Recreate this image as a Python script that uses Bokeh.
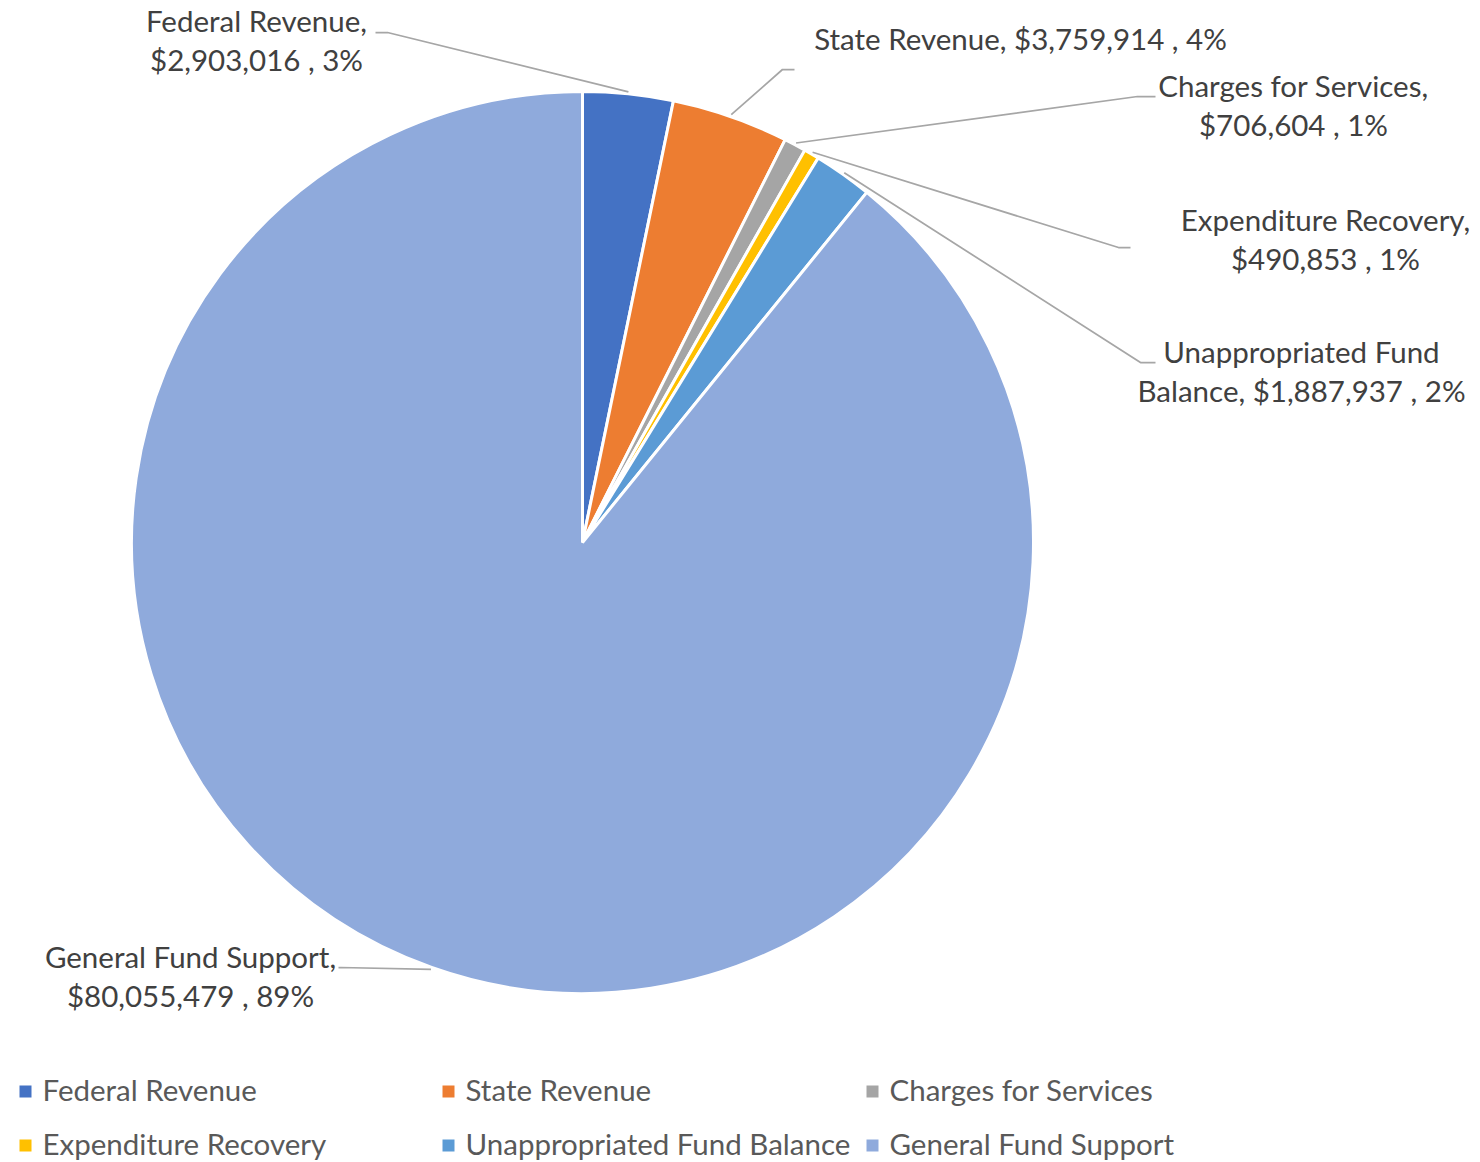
import numpy as np
from bokeh.plotting import figure
from bokeh.models import Range1d, ColumnDataSource
from bokeh.embed import file_html
from bokeh.resources import INLINE
from bokeh.core.properties import value

# ---------------- data ----------------
categories = ["Federal Revenue", "State Revenue", "Charges for Services",
              "Expenditure Recovery", "Unappropriated Fund Balance", "General Fund Support"]
amounts = [2903016, 3759914, 706604, 490853, 1887937, 80055479]
colors = ["#4472C4", "#ED7D31", "#A5A5A5", "#FFC000", "#5B9BD5", "#8FAADC"]

# data label lines (as shown on the chart)
label_lines = [
    ["Federal Revenue,", "$2,903,016 , 3%"],
    ["State Revenue, $3,759,914 , 4%"],
    ["Charges for Services,", "$706,604 , 1%"],
    ["Expenditure Recovery,", "$490,853 , 1%"],
    ["Unappropriated Fund", "Balance, $1,887,937 , 2%"],
    ["General Fund Support,", "$80,055,479 , 89%"],
]

# ---------------- layout (screen pixel coordinates) ----------------
W, H = 1480, 1162
FONT = "Lato"
FS = "29.5px"
TXT = "#404040"
LEG_TXT = "#595959"


def Y(sy):
    return H - sy


CX, CY, R = 582, Y(542), 451

# label text centres (x, first-line y) and line spacing
label_pos = [(256, 20), (1020, 38), (1293, 85), (1325, 219), (1301, 351), (190, 956)]
LINE_GAP = 39
# leader line: stub start, stub end (the end that bends toward the slice)
stubs = [((375, 32), (387, 32)),
         ((794, 69), (782, 69)),
         ((1155, 96), (1137, 96)),
         ((1130, 247), (1118, 247)),
         ((1155, 362), (1140, 362)),
         ((338, 967), (340, 967))]

p = figure(width=W, height=H, output_backend="svg", toolbar_location=None,
           x_range=Range1d(0, W), y_range=Range1d(0, H),
           min_border=0, min_border_left=0, min_border_right=0,
           min_border_top=0, min_border_bottom=0)
p.axis.visible = False
p.grid.visible = False
p.outline_line_color = None
p.background_fill_color = "white"
p.border_fill_color = "white"

vals = np.array(amounts, dtype=float)
total = vals.sum()
frac = vals / total
cum = np.concatenate([[0], np.cumsum(frac)])
start = np.pi / 2 - 2 * np.pi * cum[:-1]
end = np.pi / 2 - 2 * np.pi * cum[1:]
mid = (start + end) / 2

src = ColumnDataSource(dict(start=start, end=end, color=colors, cat=categories))
p.wedge(x=CX, y=CY, radius=R, start_angle="start", end_angle="end",
        direction="clock", fill_color="color", line_color="white",
        line_width=3, source=src)

# leader lines
xs, ys = [], []
for i, ((s0, s1)) in enumerate(stubs):
    px = CX + (R + 2) * np.cos(mid[i])
    py = CY + (R + 2) * np.sin(mid[i])
    xs.append([s0[0], s1[0], px])
    ys.append([Y(s0[1]), Y(s1[1]), py])
p.multi_line(xs=xs, ys=ys, line_color="#A6A6A6", line_width=1.75)

# data labels
tx, ty, tt = [], [], []
for (lx, ly), lines in zip(label_pos, label_lines):
    for k, t in enumerate(lines):
        tx.append(lx)
        ty.append(Y(ly + k * LINE_GAP))
        tt.append(t)
p.text(x=tx, y=ty, text=tt, text_align="center", text_baseline="middle",
       text_font=value(FONT), text_font_size=FS, text_color=TXT)

# legend (3 columns x 2 rows)
leg_col_x = [25, 448, 872]
leg_row_y = [1091, 1145]
lx = [leg_col_x[i % 3] for i in range(len(categories))]
ly = [Y(leg_row_y[i // 3]) for i in range(len(categories))]
p.scatter(x=lx, y=ly, marker="square", size=12, fill_color=colors, line_color=None)
p.text(x=[v + 17 for v in lx], y=[v + 2 for v in ly], text=categories, text_align="left",
       text_baseline="middle", text_font=value(FONT), text_font_size=FS,
       text_color=LEG_TXT)

open("out.html", "w").write(file_html(p, INLINE))
